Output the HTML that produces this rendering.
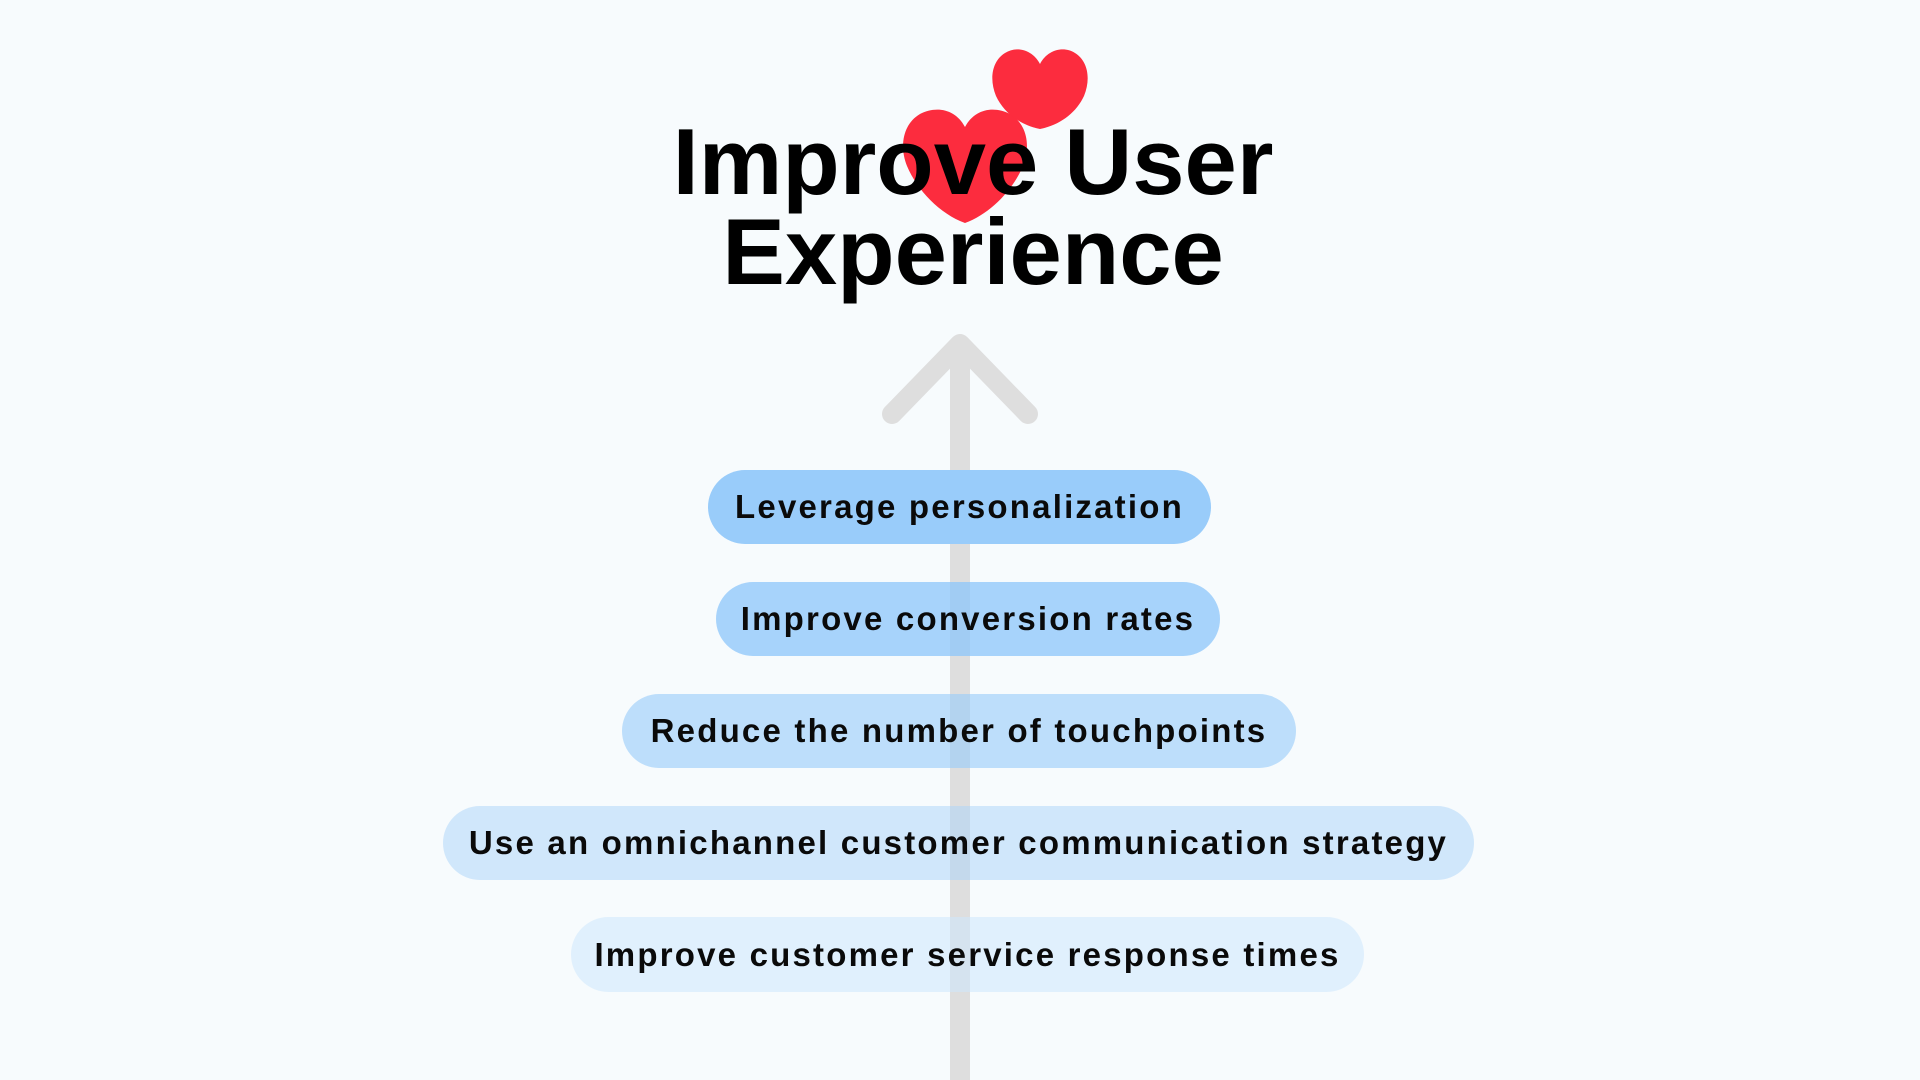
<!DOCTYPE html>
<html><head><meta charset="utf-8"><style>
html,body{margin:0;padding:0;}
body{width:1920px;height:1080px;background:#f7fbfd;position:relative;overflow:hidden;font-family:"Liberation Sans",Arial,sans-serif;}
.pill{position:absolute;border-radius:38px;display:flex;align-items:center;justify-content:center;font-weight:bold;font-size:33px;color:#0a0a0a;letter-spacing:2.2px;white-space:nowrap;}
.title{position:absolute;left:0;width:1946px;text-align:center;font-weight:bold;font-size:94px;color:#000;line-height:90px;top:117px;}
</style></head><body>
<svg width="1920" height="1080" style="position:absolute;left:0;top:0">
  <g fill="#fc2c3e">
    <path transform="translate(965,110)" d="M0,17 C-10,-2 -30,-4 -45,4 C-62,14 -66,36 -58,56 C-48,80 -25,104 0,113 C25,104 48,80 58,56 C66,36 62,14 45,4 C30,-4 10,-2 0,17 Z"/>
    <path transform="translate(1040,50)" d="M0,14 C-8,-1 -24,-4 -35,3 C-48,11 -51,29 -44,46 C-36,63 -20,75 0,79 C20,75 36,63 44,46 C51,29 48,11 35,3 C24,-4 8,-1 0,14 Z"/>
  </g>
  <line x1="960" y1="350" x2="960" y2="1080" stroke="#dedede" stroke-width="20"/>
  <polyline points="892,414 960,344 1028,414" fill="none" stroke="#dedede" stroke-width="20" stroke-linecap="round" stroke-linejoin="round"/>
</svg>
<div class="title">Improve User<br>Experience</div>
<div class="pill" style="left:708px;top:470px;width:503px;height:74px;background:#99ccfa;">Leverage personalization</div>
<div class="pill" style="left:716px;top:582px;width:504px;height:74px;background:rgba(140,198,250,0.75);">Improve conversion rates</div>
<div class="pill" style="left:622px;top:694px;width:674px;height:74px;background:rgba(150,204,250,0.6);">Reduce the number of touchpoints</div>
<div class="pill" style="left:443px;top:806px;width:1031px;height:74px;background:rgba(170,212,250,0.5);">Use an omnichannel customer communication strategy</div>
<div class="pill" style="left:571px;top:917px;width:793px;height:75px;background:rgba(205,232,254,0.55);">Improve customer service response times</div>
</body></html>
